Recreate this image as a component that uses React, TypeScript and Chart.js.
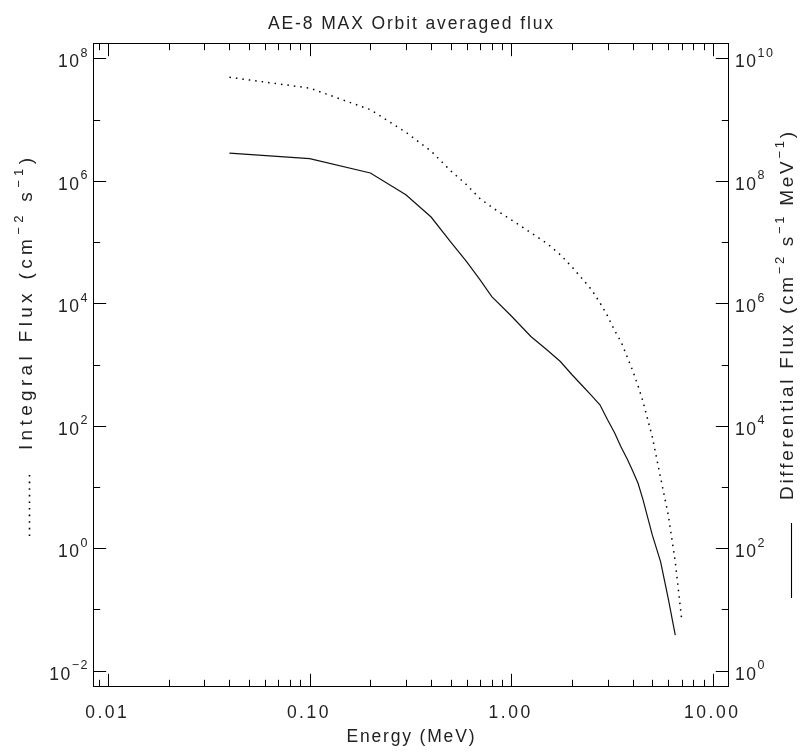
import { useEffect, useRef } from 'react';
import { Chart, registerables } from 'chart.js';
Chart.register(...registerables);

// Energy grid (MeV)
const energies = [0.04, 0.1, 0.2, 0.3, 0.4, 0.5, 0.6, 0.7, 0.8, 1.0, 1.25, 1.5, 1.75, 2.0, 2.25, 2.5, 2.75, 3.0, 3.25, 3.5, 3.75, 4.0, 4.25, 4.5, 4.75, 5.0, 5.5, 6.0, 6.5, 7.0];
// Integral flux (cm^-2 s^-1), dotted, left axis
const integralFlux = [4.9e7, 3.26e7, 1.45e7, 6.2e6, 3.05e6, 1.46e6, 8.6e5, 5.1e5, 3.7e5, 2.3e5, 1.42e5, 9.5e4, 6.2e4, 3.9e4, 2.5e4, 1.66e4, 1.02e4, 6.2e3, 3.6e3, 2.35e3, 1.34e3, 790, 450, 246, 125, 66, 14, 3.5, 0.6, 0.067];
// Differential flux (cm^-2 s^-1 MeV^-1), solid, right axis
const differentialFlux = [2.82e8, 2.3e8, 1.34e8, 5.9e7, 2.56e7, 1.01e7, 4.8e6, 2.4e6, 1.28e6, 6.2e5, 2.87e5, 1.74e5, 1.12e5, 6.8e4, 4.5e4, 3.1e4, 2.2e4, 1.25e4, 7.7e3, 4.5e3, 2.9e3, 1.83e3, 1.15e3, 615, 313, 165, 60, 15, 3.8, null];

const xTickValues = [0.01, 0.1, 1, 10];
const xTickLabels = ['0.01', '0.10', '1.00', '10.00'];
const leftExponents = [-2, 0, 2, 4, 6, 8];
const rightExponents = [0, 2, 4, 6, 8, 10];

const titleText = 'AE-8 MAX Orbit averaged flux';
const xTitle = 'Energy (MeV)';

const FONT = '"Liberation Sans", Arial, sans-serif';

type Part = { t: string; sup?: boolean };
type RichOpts = {
  size: number; supSize?: number; supRise?: number;
  align: 'left' | 'right' | 'center'; rot?: number; spacing?: number; target?: number; color?: string;
};

function drawRich(ctx: CanvasRenderingContext2D, parts: Part[], x: number, y: number, o: RichOpts) {
  ctx.save();
  ctx.translate(x, y);
  if (o.rot) ctx.rotate(o.rot);
  const supSize = o.supSize ?? o.size * 0.68;
  const rise = o.supRise ?? o.size * 0.45;
  let natural = 0;
  let n = 0;
  for (const p of parts) {
    ctx.font = `${p.sup ? supSize : o.size}px ${FONT}`;
    for (const ch of p.t) { natural += ctx.measureText(ch).width; n++; }
  }
  let sp = o.spacing ?? 0;
  if (o.target) sp = (o.target - natural) / Math.max(1, n - 1);
  const total = natural + sp * (n - 1);
  let cx = o.align === 'center' ? -total / 2 : o.align === 'right' ? -total : 0;
  ctx.fillStyle = o.color ?? '#222';
  ctx.textBaseline = 'alphabetic';
  ctx.textAlign = 'left';
  for (const p of parts) {
    ctx.font = `${p.sup ? supSize : o.size}px ${FONT}`;
    for (const ch of p.t) {
      ctx.fillText(ch, cx, p.sup ? -rise : 0);
      cx += ctx.measureText(ch).width + sp;
    }
  }
  ctx.restore();
}

const idlAxes = {
  id: 'idlAxes',
  afterDraw(chart: any) {
    const { ctx, chartArea: a, scales } = chart;
    const xs = scales.x, yl = scales.yL, yr = scales.yR;
    ctx.save();
    ctx.strokeStyle = '#000';
    ctx.lineWidth = 1;
    const L = Math.round(a.left) + 0.5, R = Math.round(a.right) + 0.5;
    const T = Math.round(a.top) + 0.5, B = Math.round(a.bottom) + 0.5;
    ctx.strokeRect(L, T, R - L, B - T);
    ctx.beginPath();
    const MAJ = 12.7, MIN = 6.7;
    for (let d = -3; d <= 1; d++) {
      for (let m = 1; m <= 9; m++) {
        const v = m * Math.pow(10, d);
        if (v < xs.min || v > xs.max) continue;
        const px = Math.round(xs.getPixelForValue(v)) + 0.5;
        const len = m === 1 ? MAJ : MIN;
        ctx.moveTo(px, B); ctx.lineTo(px, B - len);
        ctx.moveTo(px, T); ctx.lineTo(px, T + len);
      }
    }
    for (let d = -3; d <= 9; d++) {
      const v = Math.pow(10, d);
      if (v < yl.min || v > yl.max) continue;
      const py = Math.round(yl.getPixelForValue(v)) + 0.5;
      const len = d % 2 === 0 ? MAJ : MIN;
      ctx.moveTo(L, py); ctx.lineTo(L + len, py);
    }
    for (let d = -1; d <= 11; d++) {
      const v = Math.pow(10, d);
      if (v < yr.min || v > yr.max) continue;
      const py = Math.round(yr.getPixelForValue(v)) + 0.5;
      const len = d % 2 === 0 ? MAJ : MIN;
      ctx.moveTo(R, py); ctx.lineTo(R - len, py);
    }
    ctx.stroke();

    // legend line samples
    ctx.beginPath();
    ctx.lineWidth = 1.6;
    ctx.setLineDash([1.6, 5]);
    ctx.moveTo(29.5, 475); ctx.lineTo(29.5, 541);
    ctx.stroke();
    ctx.setLineDash([]);
    ctx.lineWidth = 1.1;
    ctx.beginPath();
    ctx.moveTo(791.5, 523); ctx.lineTo(791.5, 598);
    ctx.stroke();
    ctx.restore();

    const S = 17.5;
    for (const e of leftExponents) {
      const py = yl.getPixelForValue(Math.pow(10, e));
      drawRich(ctx, [{ t: '10' }, { t: String(e).replace('-', '\u2212'), sup: true }], 87.5, py + 9, { size: S, supSize: 12.5, supRise: 10.5, align: 'right', spacing: 1.5 });
    }
    for (const e of rightExponents) {
      const py = yr.getPixelForValue(Math.pow(10, e));
      drawRich(ctx, [{ t: '10' }, { t: String(e), sup: true }], 735, py + 9, { size: S, supSize: 12.5, supRise: 10.5, align: 'left', spacing: 1.5 });
    }
    xTickValues.forEach((v, i) => {
      const px = xs.getPixelForValue(v);
      drawRich(ctx, [{ t: xTickLabels[i] }], px - 2, 718, { size: S, align: 'center', spacing: 2.5 });
    });
    const cxp = (a.left + a.right) / 2;
    drawRich(ctx, [{ t: titleText }], cxp, 29, { size: S, align: 'center', target: 285 });
    drawRich(ctx, [{ t: xTitle }], cxp, 742, { size: S, align: 'center', target: 128 });
    drawRich(ctx, [{ t: 'Integral Flux (cm' }, { t: '\u22122', sup: true }, { t: ' s' }, { t: '\u22121', sup: true }, { t: ')' }],
      31.5, 304, { size: 19, supSize: 13, supRise: 9, align: 'center', rot: -Math.PI / 2, target: 292 });
    drawRich(ctx, [{ t: 'Differential Flux (cm' }, { t: '\u22122', sup: true }, { t: ' s' }, { t: '\u22121', sup: true }, { t: ' MeV' }, { t: '\u22121', sup: true }, { t: ')' }],
      793, 316, { size: 19, supSize: 13, supRise: 9, align: 'center', rot: -Math.PI / 2, target: 368 });
  },
};

export default function App() {
  const ref = useRef<HTMLCanvasElement>(null);
  useEffect(() => {
    if (!ref.current) return;
    const chart = new Chart(ref.current, {
      type: 'line',
      data: {
        datasets: [
          {
            label: 'Integral flux',
            data: energies.map((e, i) => ({ x: e, y: integralFlux[i] })),
            yAxisID: 'yL',
            borderColor: '#000',
            borderWidth: 1.5,
            borderDash: [1.5, 5],
            pointRadius: 0,
            fill: false,
            tension: 0,
          },
          {
            label: 'Differential flux',
            data: energies.map((e, i) => ({ x: e, y: differentialFlux[i] })).filter((p) => p.y !== null) as any,
            yAxisID: 'yR',
            borderColor: '#111',
            borderWidth: 1.2,
            pointRadius: 0,
            fill: false,
            tension: 0,
          },
        ],
      },
      options: {
        animation: false,
        responsive: false,
        devicePixelRatio: 1,
        layout: { padding: { left: 93, right: 72, top: 43, bottom: 66 } },
        plugins: { legend: { display: false }, tooltip: { enabled: false }, title: { display: false } },
        scales: {
          x: { type: 'logarithmic', min: Math.pow(10, -2.0744), max: Math.pow(10, 1.0744), display: false },
          yL: { type: 'logarithmic', position: 'left', min: Math.pow(10, -2.25), max: Math.pow(10, 8.25), display: false },
          yR: { type: 'logarithmic', position: 'right', min: Math.pow(10, -0.25), max: Math.pow(10, 10.25), display: false },
        },
      },
      plugins: [idlAxes],
    });
    return () => chart.destroy();
  }, []);
  return (
    <div style={{ position: 'absolute', left: 0, top: 0, width: 800, height: 752, background: '#fff' }}>
      <canvas ref={ref} width={800} height={752} style={{ display: 'block' }} />
    </div>
  );
}
